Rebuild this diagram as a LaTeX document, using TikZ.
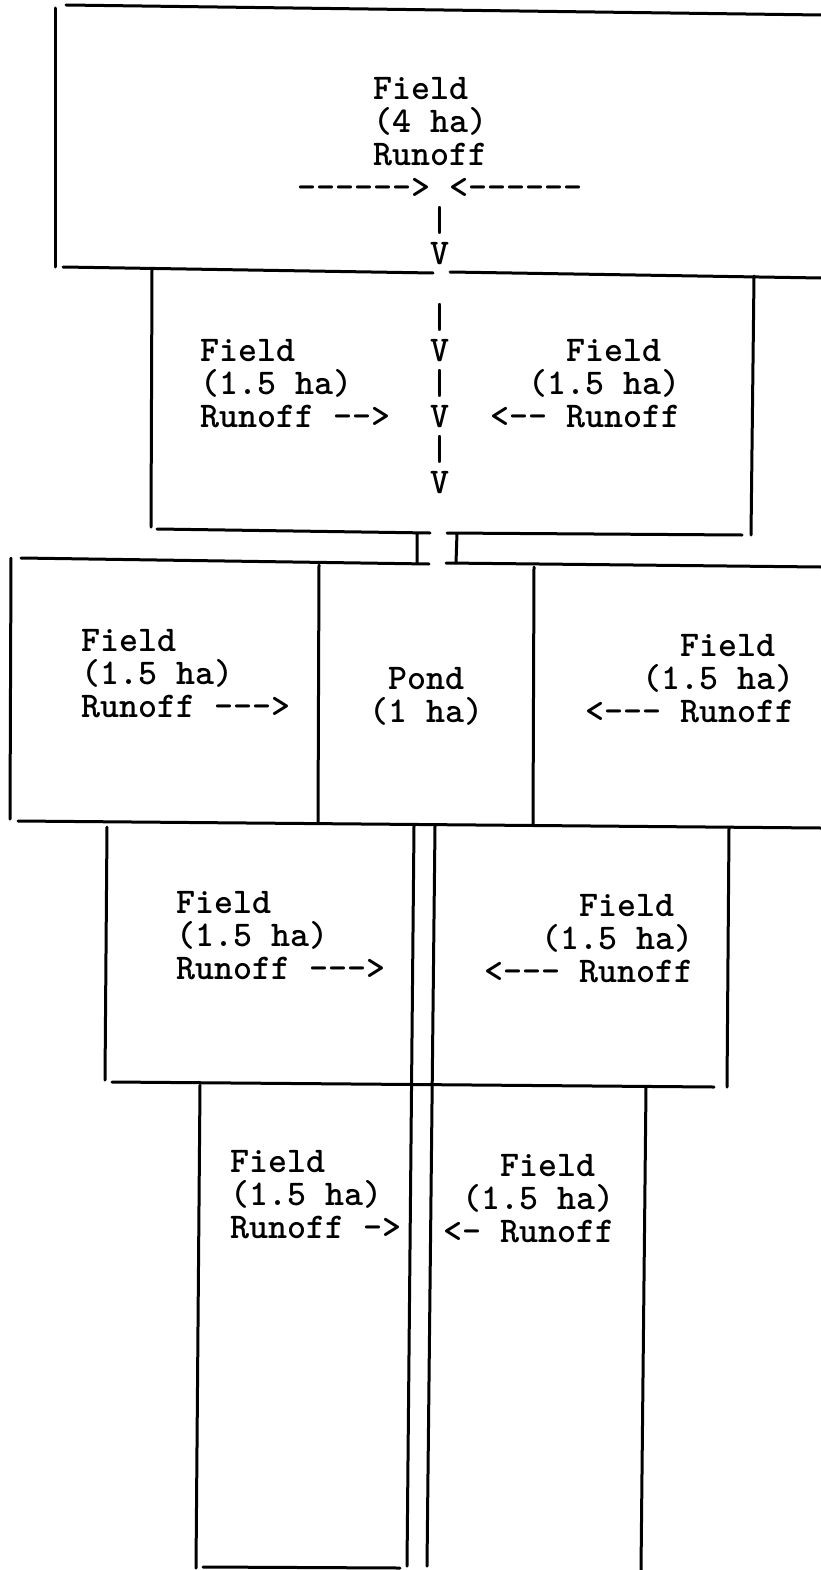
\documentclass[tikz,border=0pt]{standalone}
\usepackage{fontspec}
\newfontfamily\typewriter[Ligatures=TeXOff]{lmmonolt10-bold.otf}
% lines of typed text, 33pt apart, baseline of the first line on the node
\newcommand\typed[1]{\vtop{\baselineskip=33pt\lineskiplimit=-\maxdimen
  \halign{##\hfil\cr#1\crcr}}}

\begin{document}
\begin{tikzpicture}[x=1pt,y=-1pt,
    wall/.style={line width=3pt,line cap=round},
    typing/.style={inner sep=0pt,anchor=base west,
      font=\typewriter\fontsize{36.2}{33}\selectfont}]
  \path[fill=white,use as bounding box] (0,0) rectangle (821,1570);

  % top field
  \draw[wall] (66,5)--(821,15);
  \draw[wall] (55,8)--(55,267);
  \draw[wall] (63,267)--(433,273);
  \draw[wall] (450,272)--(821,278);
  \node[typing] (fieldtop) at (297,100) {\typed{\ \ \ \ Field\cr
    \ \ \ \ (4 ha)\cr \ \ \ \ Runoff\cr ------> <------\cr
    \ \ \ \ \ \ \ |\cr \ \ \ \ \ \ \ V}};

  % second row
  \draw[wall] (152,270)--(151,527);
  \draw[wall] (754,276)--(751,535);
  \draw[wall] (157,529)--(430,533) (417,533)--(417,563);
  \draw[wall] (447,533)--(742,535) (457,533)--(456,563);
  \node[typing] (fieldBl) at (200,361) {\typed{Field\cr (1.5 ha)\cr Runoff -->}};
  \node[typing] (drain) at (430.5,328) {\typed{|\cr V\cr |\cr V\cr |\cr V}};
  \node[typing] (fieldBr) at (490,361) {\typed{\ \ \ \ Field\cr
    \ \ (1.5 ha)\cr <-- Runoff}};

  % pond row
  \draw[wall] (21,558)--(429,564);
  \draw[wall] (446,563)--(821,567);
  \draw[wall] (11,558)--(10,819);
  \draw[wall] (319,565)--(318,823);
  \draw[wall] (534,567)--(533,825);
  \draw[wall] (18,821)--(821,828);
  \node[typing] (fieldCl) at (81,651) {\typed{Field\cr (1.5 ha)\cr Runoff --->}};
  \node[typing] (pond) at (369,689) {\typed{\ Pond\cr (1 ha)}};
  \node[typing] (fieldCr) at (585,656) {\typed{\ \ \ \ \ Field\cr
    \ \ \ (1.5 ha)\cr <--- Runoff}};

  % channel below the pond
  \draw[wall] (414,826)--(407,1566);
  \draw[wall] (435,826)--(427,1566);

  % fourth row
  \draw[wall] (107,827)--(105,1080);
  \draw[wall] (729,828)--(727,1087);
  \draw[wall] (112,1082)--(714,1087);
  \node[typing] (fieldDl) at (176,913) {\typed{Field\cr (1.5 ha)\cr Runoff --->}};
  \node[typing] (fieldDr) at (484,916) {\typed{\ \ \ \ \ Field\cr
    \ \ \ (1.5 ha)\cr <--- Runoff}};

  % bottom row
  \draw[wall] (200,1085)--(196,1568);
  \draw[wall] (646,1087)--(641,1570);
  \draw[wall] (203,1567)--(400,1568);
  \node[typing] (fieldEl) at (230,1172) {\typed{Field\cr (1.5 ha)\cr Runoff ->}};
  \node[typing] (fieldEr) at (443,1176) {\typed{\ \ \ Field\cr
    \ (1.5 ha)\cr <- Runoff}};
\end{tikzpicture}
\end{document}
